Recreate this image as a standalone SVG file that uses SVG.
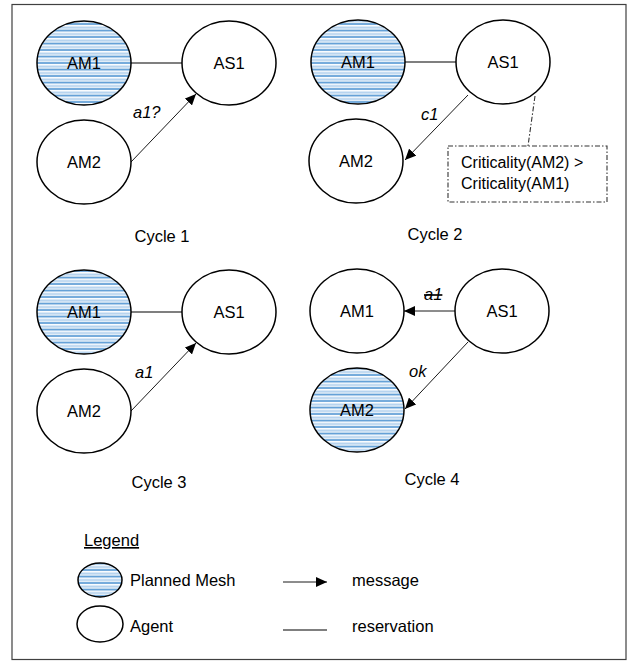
<svg xmlns="http://www.w3.org/2000/svg" width="634" height="666" viewBox="0 0 634 666">
<defs>
<pattern id="mesh" patternUnits="userSpaceOnUse" x="0" y="0" width="8" height="6.5">
<rect width="8" height="6.5" fill="#ffffff"/>
<rect y="0.5" width="8" height="2" fill="#b4d2ee"/>
<rect y="3.6" width="8" height="1.8" fill="#5b9bd5"/>
</pattern>
<marker id="arr" markerUnits="userSpaceOnUse" markerWidth="12" markerHeight="10" refX="11" refY="5" orient="auto">
<path d="M0,0 L11,5 L0,10 Z" fill="#000"/>
</marker>
<style>
.ag{fill:#fff;stroke:#000;stroke-width:1.5}
.pm{fill:url(#mesh);stroke:#000;stroke-width:1.5}
.t{font-family:"Liberation Sans",Arial,sans-serif;font-size:16.5px;fill:#000}
.c{text-anchor:middle}
.i{font-style:italic}
.msg{stroke:#000;stroke-width:0.9;fill:none;marker-end:url(#arr)}
.res{stroke:#000;stroke-width:1.2;fill:none}
.dd{stroke:#333;stroke-width:1.1;stroke-dasharray:5 2 1.5 2}
</style>
</defs>
<rect x="12" y="4.5" width="614" height="655" fill="#fff" stroke="#404040" stroke-width="1.2"/>

<g id="connectors">
<line class="res" x1="131" y1="63" x2="182" y2="63"/>
<line class="msg" x1="131" y1="162" x2="196" y2="94"/>
<line class="res" x1="405" y1="62" x2="456" y2="62"/>
<line class="msg" x1="468" y1="95" x2="405" y2="160"/>
<line class="dd" x1="535" y1="96" x2="528" y2="146"/>
<line class="res" x1="131" y1="312" x2="182" y2="312"/>
<line class="msg" x1="131" y1="411" x2="196" y2="343"/>
<line class="msg" x1="455" y1="311" x2="404" y2="311"/>
<line class="msg" x1="468" y1="342" x2="405" y2="409"/>
<line class="msg" x1="283" y1="582" x2="327" y2="582"/>
<line class="res" x1="283" y1="630" x2="327" y2="630"/>
</g>

<g id="c1-AM1"><ellipse class="pm" cx="84" cy="63" rx="47" ry="42"/><text class="t c" x="84" y="69">AM1</text></g>
<g id="c1-AS1"><ellipse class="ag" cx="229" cy="63" rx="47" ry="42"/><text class="t c" x="229" y="69">AS1</text></g>
<g id="c1-AM2"><ellipse class="ag" cx="84" cy="162" rx="47" ry="42"/><text class="t c" x="84" y="168">AM2</text></g>
<text class="t i" x="133" y="118">a1?</text>
<text class="t c" x="162" y="242">Cycle 1</text>

<g id="c2-AM1"><ellipse class="pm" cx="358" cy="62" rx="47" ry="42"/><text class="t c" x="358" y="68">AM1</text></g>
<g id="c2-AS1"><ellipse class="ag" cx="503" cy="62" rx="47" ry="42"/><text class="t c" x="503" y="68">AS1</text></g>
<g id="c2-AM2"><ellipse class="ag" cx="356" cy="161" rx="47" ry="42"/><text class="t c" x="356" y="167">AM2</text></g>
<text class="t i" x="421" y="120">c1</text>
<g id="c2-note">
<rect class="dd" x="448" y="146" width="159" height="56" fill="#fff"/>
<text class="t" x="461" y="168" style="font-size:16px">Criticality(AM2) &gt;</text>
<text class="t" x="461" y="189" style="font-size:16px">Criticality(AM1)</text>
</g>
<text class="t c" x="435" y="240">Cycle 2</text>

<g id="c3-AM1"><ellipse class="pm" cx="84" cy="312" rx="47" ry="42"/><text class="t c" x="84" y="318">AM1</text></g>
<g id="c3-AS1"><ellipse class="ag" cx="229" cy="312" rx="47" ry="42"/><text class="t c" x="229" y="318">AS1</text></g>
<g id="c3-AM2"><ellipse class="ag" cx="84" cy="411" rx="47" ry="42"/><text class="t c" x="84" y="417">AM2</text></g>
<text class="t i" x="135" y="378">a1</text>
<text class="t c" x="159" y="488">Cycle 3</text>

<g id="c4-AM1"><ellipse class="ag" cx="357" cy="311" rx="47" ry="42"/><text class="t c" x="357" y="317">AM1</text></g>
<g id="c4-AS1"><ellipse class="ag" cx="502" cy="311" rx="47" ry="42"/><text class="t c" x="502" y="317">AS1</text></g>
<g id="c4-AM2"><ellipse class="pm" cx="357" cy="410" rx="47" ry="42"/><text class="t c" x="357" y="416">AM2</text></g>
<text class="t i" x="424" y="300" text-decoration="line-through">a1</text>
<text class="t i" x="409" y="377">ok</text>
<text class="t c" x="432" y="485">Cycle 4</text>

<g id="legend">
<text class="t" x="84" y="546" text-decoration="underline">Legend</text>
<g id="lg-mesh"><ellipse class="pm" cx="100" cy="580" rx="22" ry="17"/><text class="t" x="130" y="586">Planned Mesh</text></g>
<g id="lg-agent"><ellipse class="ag" cx="100" cy="624" rx="23" ry="18"/><text class="t" x="130" y="632">Agent</text></g>
<text class="t" x="352" y="586">message</text>
<text class="t" x="352" y="632">reservation</text>
</g>
</svg>
